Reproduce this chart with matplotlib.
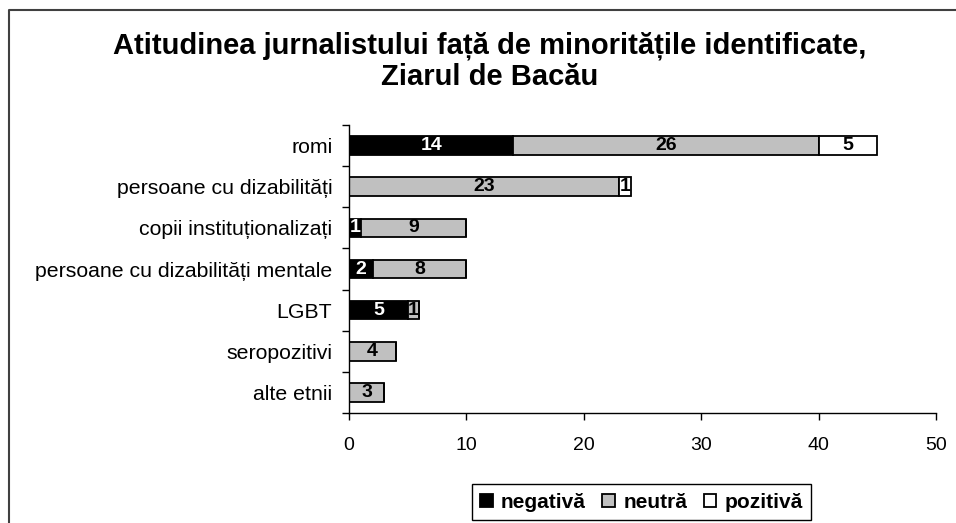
import numpy as np
import matplotlib
matplotlib.use('Agg')
import matplotlib.pyplot as plt
from matplotlib.lines import Line2D

categories = ['romi', 'persoane cu dizabilități', 'copii instituționalizați',
              'persoane cu dizabilități mentale', 'LGBT', 'seropozitivi', 'alte etnii']
negativa = [14, 0, 1, 2, 5, 0, 0]
neutra = [26, 23, 9, 8, 1, 4, 3]
pozitiva = [5, 1, 0, 0, 0, 0, 0]
series_names = ['negativă', 'neutră', 'pozitivă']
x_ticks = [0, 10, 20, 30, 40, 50]
title = 'Atitudinea jurnalistului față de minoritățile identificate,\nZiarul de Bacău'

plt.rcParams['font.family'] = ['Liberation Sans', 'DejaVu Sans']

fig = plt.figure(figsize=(9.56, 5.23), dpi=100)
ax = fig.add_axes([0.3651, 0.2103, 0.614, 0.5507])

y = np.arange(len(categories))
colors = ['black', '#c0c0c0', 'white']
text_colors = ['white', 'black', 'black']
left = np.zeros(len(categories))
for vals, name, col, tcol in zip([negativa, neutra, pozitiva], series_names, colors, text_colors):
    vals = np.array(vals, dtype=float)
    bars = ax.barh(y, vals, left=left, height=0.45, color=col,
                   edgecolor='black', linewidth=1.3, label=name)
    for b, v in zip(bars, vals):
        if v > 0:
            ax.text(b.get_x() + b.get_width() / 2, b.get_y() + b.get_height() / 2,
                    '%d' % v, ha='center', va='center', color=tcol,
                    fontsize=14, fontweight='bold')
    left += vals

ax.set_xlim(0, 50)
ax.set_ylim(len(categories) - 0.5, -0.5)
ax.set_xticks(x_ticks)
ax.set_yticks(y)
ax.set_yticklabels(categories, fontsize=15.3)
ax.set_yticks(np.arange(-0.5, len(categories), 1), minor=True)
ax.tick_params(axis='y', which='major', length=0, pad=12)
ax.tick_params(axis='y', which='minor', length=5, width=1)
ax.tick_params(axis='x', length=5, width=1, pad=12, labelsize=14)
for s in ['top', 'right']:
    ax.spines[s].set_visible(False)
for s in ['left', 'bottom']:
    ax.spines[s].set_linewidth(1)

fig.text(0.5126, 1 - 61 / 523, title, ha='center', va='center',
         fontsize=21, fontweight='bold', linespacing=1.15)

leg = ax.legend(loc='center', bbox_to_anchor=(0.671, 0.040), bbox_transform=fig.transFigure,
                ncol=3, frameon=True, fancybox=False, edgecolor='black', framealpha=1,
                prop={'weight': 'bold', 'size': 15}, handlelength=0.6, handleheight=0.6,
                handletextpad=0.4, columnspacing=0.8, borderpad=0.4)
leg.get_frame().set_linewidth(1.0)

# chart area border (only left and top visible in crop)
fig.add_artist(Line2D([9 / 956, 9 / 956, 1.0], [0, 1 - 10 / 523, 1 - 10 / 523],
                      transform=fig.transFigure, color='#404040', lw=1.5))

fig.savefig('out.png', dpi=100)
